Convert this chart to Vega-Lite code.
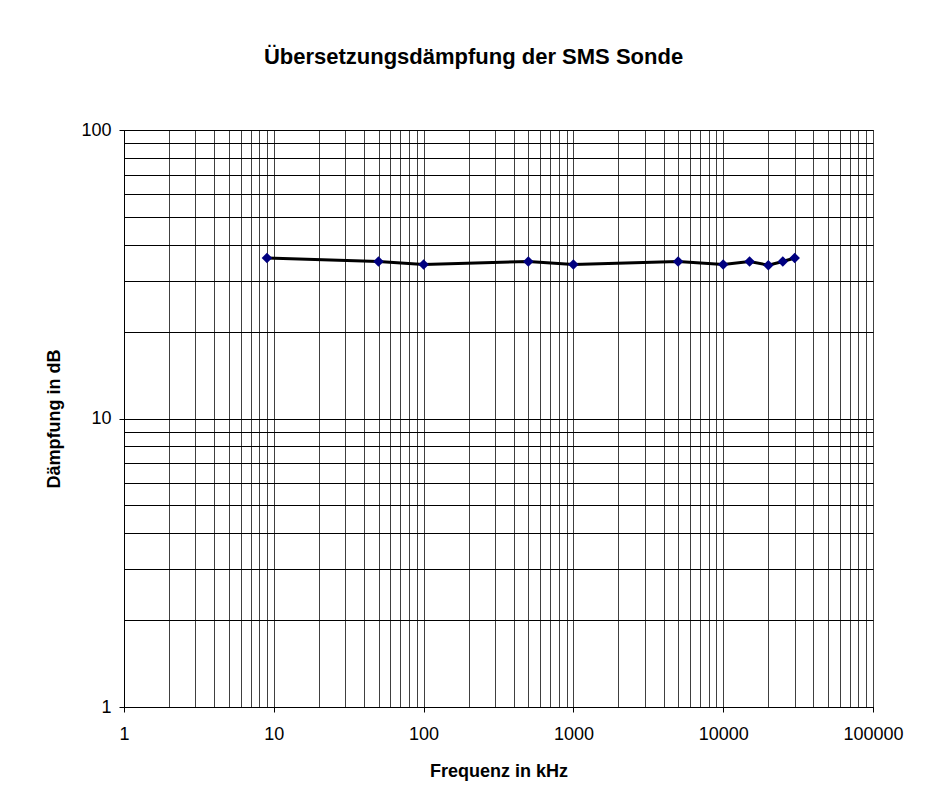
{
  "$schema": "https://vega.github.io/schema/vega-lite/v6.json",
  "autosize": "none",
  "padding": {"left": 124, "top": 130, "right": 63, "bottom": 103},
  "width": 749,
  "height": 577,
  "background": "white",
  "config": {
    "font": "Liberation Sans",
    "view": {"stroke": "#000", "strokeWidth": 1}
  },
  "title": {
    "text": "Übersetzungsdämpfung der SMS Sonde",
    "font": "Liberation Sans",
    "fontSize": 22,
    "fontWeight": "bold",
    "color": "#000",
    "anchor": "middle",
    "baseline": "alphabetic",
    "offset": 35,
    "dx": -25
  },
  "data": {
    "values": [
      {"f": 9, "d": 36},
      {"f": 50, "d": 35},
      {"f": 100, "d": 34.2},
      {"f": 500, "d": 35},
      {"f": 1000, "d": 34.2},
      {"f": 5000, "d": 35},
      {"f": 10000, "d": 34.2},
      {"f": 15000, "d": 35},
      {"f": 20000, "d": 34},
      {"f": 25000, "d": 35},
      {"f": 30000, "d": 36}
    ]
  },
  "encoding": {
    "x": {
      "field": "f",
      "type": "quantitative",
      "scale": {"type": "log", "domain": [1, 100000], "nice": false},
      "axis": {
        "title": "Frequenz in kHz",
        "titleFont": "Liberation Sans",
        "titleFontSize": 18,
        "titleFontWeight": "bold",
        "titleColor": "#000",
        "titlePadding": 19,
        "values": [1,2,3,4,5,6,7,8,9,10,20,30,40,50,60,70,80,90,100,200,300,400,500,600,700,800,900,1000,2000,3000,4000,5000,6000,7000,8000,9000,10000,20000,30000,40000,50000,60000,70000,80000,90000,100000],
        "labelExpr": "indexof([1,10,100,1000,10000,100000], datum.value) >= 0 ? format(datum.value, 'd') : ''",
        "labelFont": "Liberation Sans",
        "labelFontSize": 18,
        "labelColor": "#000",
        "labelPadding": 13,
        "labelFlush": false,
        "labelOverlap": false,
        "labelBound": false,
        "grid": true,
        "gridColor": "#404040",
        "gridWidth": 1,
        "gridOpacity": 1,
        "domainColor": "#000",
        "domainWidth": 1,
        "tickColor": "#000",
        "tickSize": 5,
        "tickWidth": 1,
        "tickOpacity": {"condition": {"test": "indexof([1,10,100,1000,10000,100000], datum.value) >= 0", "value": 1}, "value": 0}
      }
    },
    "y": {
      "field": "d",
      "type": "quantitative",
      "scale": {"type": "log", "domain": [1, 100], "nice": false},
      "axis": {
        "title": "Dämpfung in dB",
        "titleFont": "Liberation Sans",
        "titleFontSize": 18,
        "titleFontWeight": "bold",
        "titleColor": "#000",
        "titlePadding": 17,
        "values": [1,2,3,4,5,6,7,8,9,10,20,30,40,50,60,70,80,90,100],
        "labelExpr": "indexof([1,10,100], datum.value) >= 0 ? format(datum.value, 'd') : ''",
        "labelFont": "Liberation Sans",
        "labelFontSize": 18,
        "labelColor": "#000",
        "labelPadding": 8,
        "labelOverlap": false,
        "labelBound": false,
        "labelFlush": false,
        "grid": true,
        "gridColor": "#000",
        "gridWidth": 1,
        "gridOpacity": 1,
        "domainColor": "#000",
        "domainWidth": 1,
        "tickColor": "#000",
        "tickSize": 5,
        "tickWidth": 1,
        "tickOpacity": {"condition": {"test": "indexof([1,10,100], datum.value) >= 0", "value": 1}, "value": 0}
      }
    }
  },
  "layer": [
    {"mark": {"type": "line", "color": "#000", "strokeWidth": 3}},
    {"mark": {"type": "point", "shape": "diamond", "filled": true, "color": "#000080", "size": 110, "opacity": 1}}
  ]
}
